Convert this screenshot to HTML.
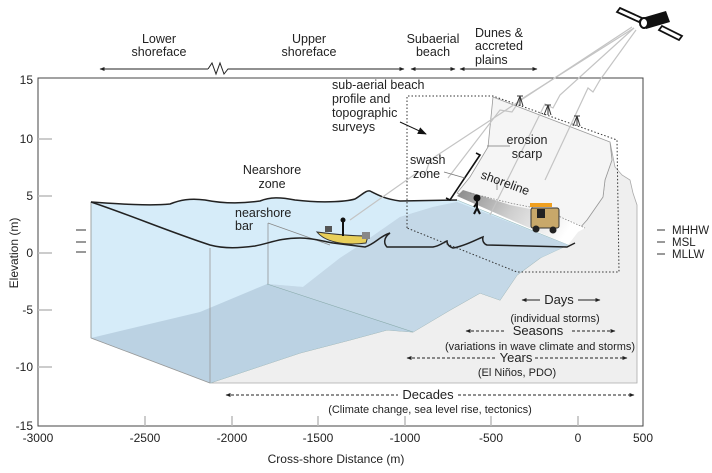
<!DOCTYPE html>
<html><head><meta charset="utf-8"><style>
html,body{margin:0;padding:0;background:#fff}
svg{display:block}
text{font-family:"Liberation Sans",Arial,sans-serif;fill:#222}
</style></head><body>
<svg width="712" height="473" viewBox="0 0 712 473" xmlns="http://www.w3.org/2000/svg">
<defs>
<marker id="ah" viewBox="0 0 10 10" refX="9" refY="5" markerWidth="5" markerHeight="5" orient="auto-start-reverse"><path d="M0,1 L10,5 L0,9 z" fill="#222"/></marker>
<marker id="ab" viewBox="0 0 10 10" refX="9" refY="5" markerWidth="9" markerHeight="9" orient="auto"><path d="M0,1 L10,5 L0,9 z" fill="#111"/></marker>
<linearGradient id="wet" x1="0" y1="0" x2="1" y2="0.3"><stop offset="0" stop-color="#8a8a8a"/><stop offset="0.5" stop-color="#cfcfcf"/><stop offset="1" stop-color="#fff"/></linearGradient>
</defs>

<rect x="38" y="78" width="605" height="348" fill="none" stroke="#444" stroke-width="1"/>
<g stroke="#bbb" stroke-width="1.5">
<line x1="38" y1="139" x2="52" y2="139"/><line x1="38" y1="196" x2="52" y2="196"/><line x1="38" y1="253" x2="52" y2="253"/><line x1="38" y1="310" x2="52" y2="310"/><line x1="38" y1="367" x2="52" y2="367"/>
<line x1="145" y1="426" x2="145" y2="416"/><line x1="232" y1="426" x2="232" y2="416"/><line x1="318" y1="426" x2="318" y2="416"/><line x1="405" y1="426" x2="405" y2="416"/><line x1="491" y1="426" x2="491" y2="416"/><line x1="578" y1="426" x2="578" y2="416"/>
</g>
<g font-size="12" text-anchor="end">
<text x="33" y="84">15</text><text x="33" y="143">10</text><text x="33" y="200">5</text><text x="33" y="257">0</text><text x="33" y="314">-5</text><text x="33" y="371">-10</text><text x="33" y="430">-15</text>
</g>
<g font-size="12" text-anchor="middle">
<text x="38" y="442">-3000</text><text x="145" y="442">-2500</text><text x="232" y="442">-2000</text><text x="318" y="442">-1500</text><text x="405" y="442">-1000</text><text x="491" y="442">-500</text><text x="578" y="442">0</text><text x="643" y="442">500</text>
<text x="336" y="463">Cross-shore Distance (m)</text>
</g>
<text x="0" y="0" font-size="12" text-anchor="middle" transform="translate(18,253) rotate(-90)">Elevation (m)</text>

<polygon points="210,383 300,353 350,340 387,330 413,332 450,310 480,293 500,300 517,275 540,258 565,242 578,230 587,220 603,197 605,180 612,160 610,142 615,167 622,175 630,180 633,193 637,205 637,383" fill="#efefef" stroke="#aaa" stroke-width="0.8"/>
<polygon points="457,193 470,177 488,147 493,97 610,142 612,160 605,180 603,197 587,220 578,230 565,242" fill="#f5f5f5" stroke="#999" stroke-width="0.8"/>
<polygon points="457,196 463,190 510,205 560,215 585,228 578,232 568,245" fill="url(#wet)"/>
<polyline points="470,193 510,203 545,210 585,228" fill="none" stroke="#777" stroke-width="0.7" stroke-dasharray="1.5,1.5"/>

<path d="M91,202 C120,204 150,206 170,204 C180,200 190,198 205,200 C220,203 240,204 260,201 C270,197 280,197 295,200 C320,203 345,202 355,199 C362,195 366,190 370,191 C378,195 385,199 400,201 L457,200 L568,245 L540,258 517,275 500,300 480,293 450,310 413,332 387,330 350,340 300,353 210,383 91,338 z" fill="#d6ecf9" stroke="#9bb" stroke-width="0.6"/>
<polygon points="91,338 200,312 267,284 303,287 340,258 357,247 400,217 433,207 457,202 568,245 540,258 517,275 500,300 480,293 450,310 413,332 387,330 350,340 300,353 210,383" fill="#b9d1e2" opacity="0.95"/>
<polygon points="267,284 303,287 340,258 357,247 400,217 433,207 457,202 568,245 540,258 517,275 500,300 480,293 450,310 413,332" fill="#c7dae8" opacity="0.7"/>
<line x1="267" y1="284" x2="413" y2="332" stroke="#8aa" stroke-width="0.6"/>
<line x1="210" y1="248" x2="210" y2="383" stroke="#999" stroke-width="0.8"/>
<line x1="91" y1="202" x2="91" y2="338" stroke="#999" stroke-width="0.8"/>
<line x1="91" y1="338" x2="210" y2="383" stroke="#999" stroke-width="0.8"/>
<line x1="268" y1="223" x2="268" y2="284" stroke="#888" stroke-width="0.7"/>
<line x1="268" y1="223" x2="330" y2="245" stroke="#888" stroke-width="0.7"/>

<path d="M91,202 C120,204 150,206 170,204 C180,200 190,198 205,200 C220,203 240,204 260,201 C270,197 280,197 295,200 C320,203 345,202 355,199 C362,195 366,190 370,191 C378,195 385,199 400,201 L457,200" fill="none" stroke="#222" stroke-width="1.5"/>
<path d="M91,202 C130,215 170,232 210,245 C225,249 240,248 255,246 C270,243 280,238 300,238 C315,238 325,242 333,243 L365,247 C375,244 380,236 390,233 C383,238 384,244 387,247 L433,247 C440,246 444,242 447,241 C447,245 450,247 453,248 C465,246 475,240 483,237 C482,241 484,244 487,245 L567,247 575,243" fill="none" stroke="#222" stroke-width="1.5"/>

<polyline points="407,228 407,96 493,96 617,140 619,272 517,272 407,228" fill="none" stroke="#333" stroke-width="1" stroke-dasharray="1.5,2"/>

<g fill="none" stroke="#c4c4c4" stroke-width="1.2">
<polyline points="634,28 520,100 512,112 500,110 448,178"/>
<polyline points="634,28 560,95 553,108 545,104 490,215"/>
<polyline points="636,30 600,80 593,92 588,88 545,180"/>
<polyline points="632,27 430,160 425,175 418,172 350,220"/>
</g>
<g>
<polygon points="620,8 642,18 639,22 617,12" fill="#fff" stroke="#111" stroke-width="1.8"/>
<polygon points="662,26 682,36 679,40 659,30" fill="#fff" stroke="#111" stroke-width="1.8"/>
<polygon points="642,18 666,11 670,22 646,29" fill="#111"/>
<ellipse cx="644" cy="23" rx="4" ry="5" fill="#fff" stroke="#111" stroke-width="2"/>
</g>
<g stroke="#333" stroke-width="1" fill="none">
<path d="M520,96 L516,106 M520,96 L523,106 M520,96 L520,106 M517,96 h6"/>
<path d="M548,105 L544,115 M548,105 L551,115 M548,105 L548,115 M545,105 h6"/>
<path d="M577,116 L573,126 M577,116 L580,126 M577,116 L577,126 M574,116 h6"/>
</g>
<g stroke="#111" stroke-width="2" fill="#111">
<circle cx="477" cy="198" r="2.5"/><line x1="477" y1="200" x2="477" y2="208"/><line x1="477" y1="208" x2="474" y2="214"/><line x1="477" y1="208" x2="480" y2="214"/><line x1="477" y1="203" x2="474" y2="207"/>
</g>
<g>
<rect x="531" y="208" width="28" height="20" rx="2" fill="#c8a86a" stroke="#333" stroke-width="1"/>
<rect x="530" y="203" width="22" height="4" fill="#f0a020"/>
<rect x="537" y="209" width="8" height="9" fill="#222"/>
<circle cx="536" cy="229" r="3.5" fill="#222"/><circle cx="553" cy="230" r="3.5" fill="#222"/>
</g>
<g>
<path d="M317,232 C325,242 345,246 366,243 L368,236 C350,236 332,234 317,232 z" fill="#e8cf5a" stroke="#333" stroke-width="1"/>
<rect x="325" y="226" width="7" height="6" fill="#555"/>
<line x1="343" y1="222" x2="343" y2="236" stroke="#111" stroke-width="2"/><circle cx="343" cy="220" r="2.5" fill="#111"/>
<rect x="362" y="232" width="8" height="7" fill="#888"/>
</g>

<polyline points="476,153 480,155 450,200 446,198" fill="none" stroke="#111" stroke-width="1.6"/>
<line x1="444" y1="172" x2="465" y2="178" stroke="#777" stroke-width="0.8"/>
<line x1="487" y1="146" x2="510" y2="146" stroke="#777" stroke-width="0.8"/>
<line x1="497" y1="180" x2="497" y2="190" stroke="#777" stroke-width="0.8"/>
<line x1="400" y1="122" x2="426" y2="134" stroke="#111" stroke-width="1" marker-end="url(#ab)"/>

<g stroke="#222" stroke-width="1" fill="none">
<line x1="100" y1="69" x2="208" y2="69" marker-start="url(#ah)"/>
<polyline points="208,69 212,63 216,74 220,63 224,74 228,69 404,69" marker-end="url(#ah)"/>
<line x1="411" y1="69" x2="455" y2="69" marker-start="url(#ah)" marker-end="url(#ah)"/>
<line x1="460" y1="69" x2="537" y2="69" marker-start="url(#ah)" marker-end="url(#ah)"/>
<line x1="522" y1="300" x2="540" y2="300" marker-start="url(#ah)"/>
<line x1="578" y1="300" x2="600" y2="300" marker-end="url(#ah)"/>
</g>
<g stroke="#222" stroke-width="1" fill="none" stroke-dasharray="3,2">
<line x1="466" y1="331" x2="505" y2="331" marker-start="url(#ah)"/>
<line x1="572" y1="331" x2="615" y2="331" marker-end="url(#ah)"/>
<line x1="407" y1="358" x2="497" y2="358" marker-start="url(#ah)"/>
<line x1="535" y1="358" x2="627" y2="358" marker-end="url(#ah)"/>
<line x1="226" y1="395" x2="398" y2="395" marker-start="url(#ah)"/>
<line x1="458" y1="395" x2="634" y2="395" marker-end="url(#ah)"/>
</g>

<g font-size="12.5" text-anchor="middle">
<text x="159" y="43">Lower</text><text x="159" y="56">shoreface</text>
<text x="309" y="43">Upper</text><text x="309" y="56">shoreface</text>
<text x="433" y="43">Subaerial</text><text x="433" y="56">beach</text>
<text x="272" y="174">Nearshore</text><text x="272" y="188">zone</text>
<text x="527" y="144">erosion</text><text x="527" y="158">scarp</text>
<text x="559" y="304" font-size="13">Days</text>
<text x="555" y="322" font-size="11">(individual storms)</text>
<text x="538" y="335" font-size="13">Seasons</text>
<text x="540" y="350" font-size="11">(variations in wave climate and storms)</text>
<text x="516" y="362" font-size="13">Years</text>
<text x="517" y="376" font-size="11">(El Niños, PDO)</text>
<text x="428" y="399" font-size="13">Decades</text>
<text x="430" y="413" font-size="11">(Climate change, sea level rise, tectonics)</text>
</g>
<g font-size="12.5">
<text x="475" y="37">Dunes &amp;</text><text x="475" y="50">accreted</text><text x="475" y="64">plains</text>
<text x="332" y="89">sub-aerial beach</text><text x="332" y="103">profile and</text><text x="332" y="117">topographic</text><text x="332" y="131">surveys</text>
<text x="235" y="217">nearshore</text><text x="235" y="230">bar</text>
<text x="410" y="164">swash</text><text x="413" y="178">zone</text>
<text x="0" y="0" transform="translate(480,178) rotate(20)">shoreline</text>
</g>
<g font-size="11.5">
<text x="672" y="234">MHHW</text><text x="672" y="246">MSL</text><text x="672" y="258">MLLW</text>
</g>
<g stroke="#333" stroke-width="1">
<line x1="657" y1="230" x2="665" y2="230"/><line x1="657" y1="242" x2="665" y2="242"/><line x1="657" y1="254" x2="665" y2="254"/>
<line x1="76" y1="230" x2="86" y2="230"/><line x1="76" y1="242" x2="86" y2="242"/><line x1="76" y1="252" x2="86" y2="252"/>
</g>
</svg>
</body></html>
